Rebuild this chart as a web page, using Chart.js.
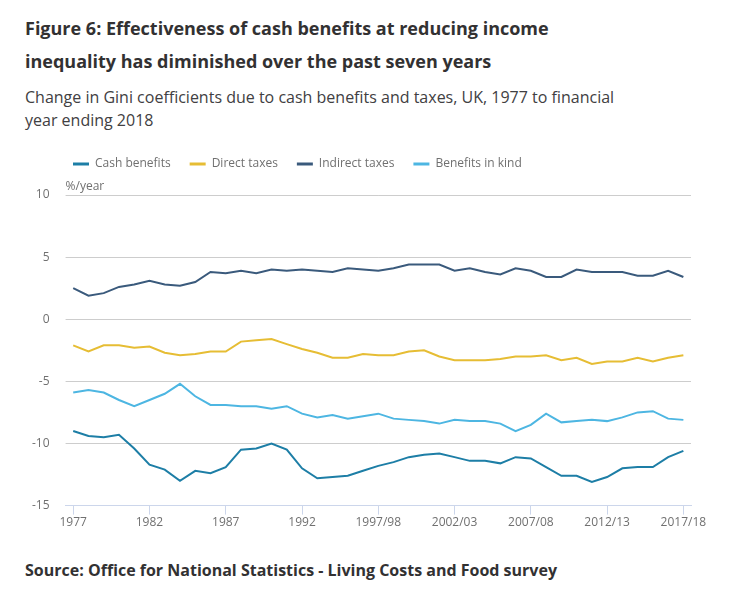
<!DOCTYPE html>
<html>
<head>
<meta charset="utf-8">
<script src="https://cdn.jsdelivr.net/npm/chart.js@4/dist/chart.umd.min.js"></script>
<style>
  html, body { margin: 0; padding: 0; background: #fff; }
  body { width: 731px; height: 592px; position: relative; overflow: hidden; font-family: 'Open Sans', sans-serif; color: #323132; }
  h1 { position: absolute; left: 25px; top: 12px; width: 560px; margin: 0; font-size: 18px; line-height: 33px; font-weight: 700; }
  .sub { position: absolute; left: 25px; top: 86px; width: 620px; margin: 0; font-size: 16px; line-height: 23px; color: #414042; }
  .src { position: absolute; left: 25px; top: 558px; margin: 0; font-size: 16px; line-height: 24px; font-weight: 700; }
  #wrap { position: absolute; left: 0; top: 139px; width: 731px; height: 392px; }
</style>
</head>
<body>
<h1>Figure 6: Effectiveness of cash benefits at reducing income inequality has diminished over the past seven years</h1>
<p class="sub">Change in Gini coefficients due to cash benefits and taxes, UK, 1977 to financial year ending 2018</p>
<div id="wrap"><canvas id="chart"></canvas></div>
<p class="src">Source: Office for National Statistics - Living Costs and Food survey</p>
<script>
/* ─── Data ─── */
const years = [
  '1977', '1978', '1979', '1980', '1981', '1982', '1983', '1984', '1985', '1986',
  '1987', '1988', '1989', '1990', '1991', '1992', '1993', '1994/95', '1995/96', '1996/97',
  '1997/98', '1998/99', '1999/00', '2000/01', '2001/02', '2002/03', '2003/04', '2004/05', '2005/06', '2006/07',
  '2007/08', '2008/09', '2009/10', '2010/11', '2011/12', '2012/13', '2013/14', '2014/15', '2015/16', '2016/17',
  '2017/18'
];

const cashBenefits = [
  -9.0, -9.4, -9.5, -9.3, -10.4, -11.7, -12.1, -13.0, -12.2, -12.4,
  -11.9, -10.5, -10.4, -10.0, -10.5, -12.0, -12.8, -12.7, -12.6, -12.2,
  -11.8, -11.5, -11.1, -10.9, -10.8, -11.1, -11.4, -11.4, -11.6, -11.1,
  -11.2, -11.9, -12.6, -12.6, -13.1, -12.7, -12.0, -11.9, -11.9, -11.1,
  -10.6
];

const directTaxes = [
  -2.1, -2.6, -2.1, -2.1, -2.3, -2.2, -2.7, -2.9, -2.8, -2.6,
  -2.6, -1.8, -1.7, -1.6, -2.0, -2.4, -2.7, -3.1, -3.1, -2.8,
  -2.9, -2.9, -2.6, -2.5, -3.0, -3.3, -3.3, -3.3, -3.2, -3.0,
  -3.0, -2.9, -3.3, -3.1, -3.6, -3.4, -3.4, -3.1, -3.4, -3.1,
  -2.9
];

const indirectTaxes = [
  2.5, 1.9, 2.1, 2.6, 2.8, 3.1, 2.8, 2.7, 3.0, 3.8,
  3.7, 3.9, 3.7, 4.0, 3.9, 4.0, 3.9, 3.8, 4.1, 4.0,
  3.9, 4.1, 4.4, 4.4, 4.4, 3.9, 4.1, 3.8, 3.6, 4.1,
  3.9, 3.4, 3.4, 4.0, 3.8, 3.8, 3.8, 3.5, 3.5, 3.9,
  3.4
];

const benefitsInKind = [
  -5.9, -5.7, -5.9, -6.5, -7.0, -6.5, -6.0, -5.2, -6.2, -6.9,
  -6.9, -7.0, -7.0, -7.2, -7.0, -7.6, -7.9, -7.7, -8.0, -7.8,
  -7.6, -8.0, -8.1, -8.2, -8.4, -8.1, -8.2, -8.2, -8.4, -9.0,
  -8.5, -7.6, -8.3, -8.2, -8.1, -8.2, -7.9, -7.5, -7.4, -8.0,
  -8.1
];

const yMin = -15;
const yMax = 10;
const yStep = 5;

const SERIES = [
  { label: 'Cash benefits',    data: cashBenefits,   color: '#1d7ea6' },
  { label: 'Direct taxes',     data: directTaxes,    color: '#e6bd34' },
  { label: 'Indirect taxes',   data: indirectTaxes,  color: '#3a5a7c' },
  { label: 'Benefits in kind', data: benefitsInKind, color: '#4db6e2' },
];

const AXIS_BLUE = '#ccd6eb';
const GRID_GREY = '#cdcdcd';
const LABEL_GREY = '#707070';

/* ─── Plugins ─── */
// taller legend box, then push it right so it lines up with the plot
const legendShift = {
  id: 'legendShift',
  beforeUpdate(chart) {
    const lg = chart.legend;
    if (!lg || lg._patched) return;
    const fit = lg.fit.bind(lg);
    lg.fit = function () { fit(); this.height += 15; };
    lg._patched = true;
  },
  afterLayout(chart) {
    if (!chart.legend) return;
    chart.legend.left += 38;
    chart.legend.right += 38;
  },
};

// horizontal grid drawn from the y scale's own ticks
const hGrid = {
  id: 'hGrid',
  afterDraw(chart) {
    const { ctx, chartArea, scales } = chart;
    const y = scales.y;
    ctx.save();
    ctx.globalCompositeOperation = 'destination-over';
    ctx.strokeStyle = GRID_GREY;
    ctx.lineWidth = 1;
    y.ticks.forEach(t => {
      if (t.value === yMin) return;
      const py = Math.round(y.getPixelForValue(t.value) - 0.5) + 0.5;
      ctx.beginPath();
      ctx.moveTo(chartArea.left, py);
      ctx.lineTo(chartArea.right, py);
      ctx.stroke();
    });
    ctx.restore();
  },
};

const unitLabel = {
  id: 'unitLabel',
  afterDraw(chart) {
    const { ctx, chartArea } = chart;
    ctx.save();
    ctx.font = "12px 'Open Sans', sans-serif";
    ctx.fillStyle = LABEL_GREY;
    ctx.textBaseline = 'middle';
    ctx.textAlign = 'left';
    ctx.fillText('%/year', chartArea.left, chartArea.top - 8);
    ctx.restore();
  },
};

Chart.defaults.font.family = "'Open Sans', sans-serif";
Chart.defaults.font.size = 12;
Chart.defaults.color = LABEL_GREY;

new Chart(document.getElementById('chart'), {
  type: 'line',
  data: {
    labels: years,
    datasets: SERIES.map(s => ({
      label: s.label,
      data: s.data,
      borderColor: s.color,
      backgroundColor: s.color,
      borderWidth: 2,
      pointRadius: 0,
      tension: 0,
      fill: false,
    })),
  },
  options: {
    responsive: true,
    maintainAspectRatio: false,
    animation: false,
    layout: { padding: { left: 16, right: 40, top: 0, bottom: 0 } },
    plugins: {
      tooltip: { enabled: false },
      legend: {
        position: 'top',
        align: 'start',
        labels: {
          boxWidth: 16,
          boxHeight: 3,
          padding: 19,
          color: LABEL_GREY,
          font: { size: 12 },
          generateLabels(chart) {
            return Chart.defaults.plugins.legend.labels.generateLabels(chart)
              .map(l => ({ ...l, lineWidth: 0, strokeStyle: 'rgba(0,0,0,0)' }));
          },
        },
      },
    },
    scales: {
      x: {
        offset: true,
        border: { display: true, color: AXIS_BLUE, width: 1, z: 1 },
        grid: {
          offset: false,
          drawOnChartArea: false,
          drawTicks: true,
          tickLength: 9,
          tickColor: AXIS_BLUE,
        },
        ticks: {
          autoSkip: false,
          maxRotation: 0,
          padding: 1,
          color: LABEL_GREY,
          callback: (v, i) => (i % 5 === 0 ? years[i] : null),
        },
      },
      y: {
        min: yMin,
        max: yMax,
        border: { display: false },
        grid: {
          drawTicks: false,
          color: GRID_GREY,
        },
        ticks: {
          stepSize: yStep,
          padding: 16,
          color: LABEL_GREY,
        },
      },
    },
  },
  plugins: [legendShift, hGrid, unitLabel],
});
</script>
</body>
</html>
